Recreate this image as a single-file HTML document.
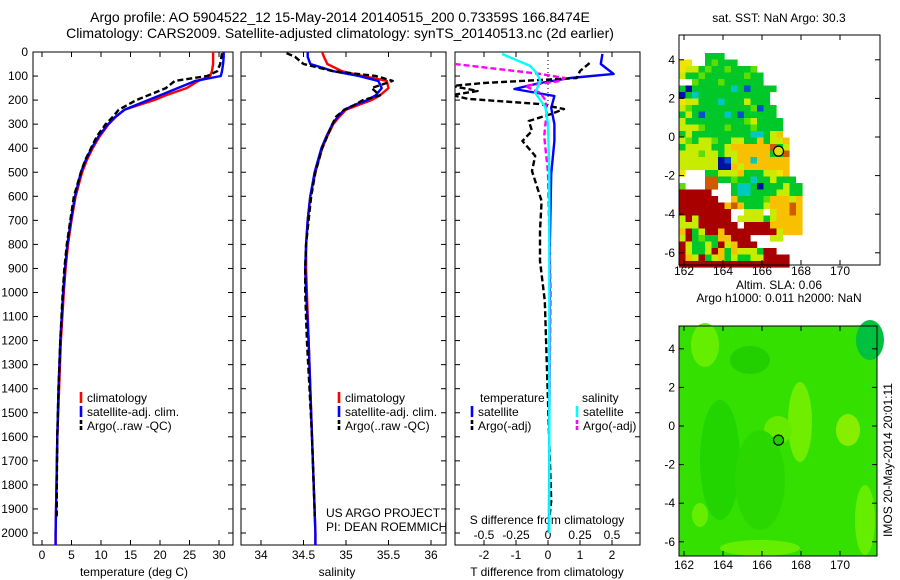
<!DOCTYPE html>
<html><head><meta charset="utf-8"><style>
html,body{margin:0;padding:0;background:#fff;}
svg{display:block;font-family:"Liberation Sans",sans-serif;}
text{fill:#000;}
</style></head><body>
<svg id="fig" width="900" height="580" viewBox="0 0 900 580" xmlns="http://www.w3.org/2000/svg">
<defs>
<clipPath id="c1"><rect x="33" y="52" width="200" height="493"/></clipPath>
<clipPath id="c2"><rect x="241" y="52" width="205" height="493"/></clipPath>
<clipPath id="c3"><rect x="455" y="52" width="185" height="493"/></clipPath>
</defs>
<text x="340" y="22" font-size="14" text-anchor="middle">Argo profile: AO 5904522_12 15-May-2014 20140515_200 0.73359S 166.8474E</text>
<text x="340" y="38" font-size="14" text-anchor="middle">Climatology: CARS2009. Satellite-adjusted climatology: synTS_20140513.nc (2d earlier)</text>
<g id="g"></g>
</svg>
<script>
// ---------- data ----------
const climDepth = [0,20,50,80,100,120,150,180,200,220,240,270,300,350,400,450,500,600,700,800,900,1000,1200,1400,1600,1800,2000,2060];
const tempClim = [29.0,29.0,29.0,28.8,28.5,26.5,24.5,21,19,16.5,14,12.5,11.3,9.8,8.6,7.6,6.8,5.7,5,4.4,4,3.7,3.2,2.9,2.6,2.45,2.3,2.3];
const tempSat = [30.8,30.8,30.7,30.5,30.3,26,23,20,18,16,14,12.4,11.2,9.6,8.4,7.4,6.6,5.6,4.9,4.3,3.9,3.6,3.1,2.8,2.6,2.45,2.3,2.3];
const argoDepth = [5,20,50,80,100,120,150,180,200,220,240,270,300,350,400,450,500,600,700,800,900,1000,1200,1400,1600,1800,1900,1930];
const tempArgo = [30.5,30.4,30.2,29.7,28,22.5,21,18,16,14.5,13,12,10.8,9.3,8.3,7.3,6.6,5.4,4.8,4.2,3.8,3.5,3.1,2.8,2.6,2.5,2.5,2.5];
const salClim = [34.72,34.74,34.78,34.95,35.2,35.48,35.5,35.4,35.3,35.15,35.0,34.92,34.85,34.78,34.72,34.68,34.64,34.58,34.55,34.53,34.53,34.54,34.56,34.58,34.6,34.62,34.64,34.64];
const salSat = [34.55,34.55,34.58,34.85,35.15,35.38,35.42,35.35,35.25,35.1,34.98,34.9,34.84,34.77,34.71,34.67,34.63,34.58,34.55,34.53,34.52,34.53,34.56,34.58,34.6,34.62,34.64,34.64];
const salArgo = [34.3,34.4,34.5,34.85,35.35,35.55,35.3,35.4,35.2,35.1,34.98,34.88,34.84,34.78,34.72,34.68,34.64,34.59,34.56,34.53,34.52,34.52,34.54,34.57,34.6,34.62,34.63,34.63];
const tDiffSatDepth = [8,50,91,108,129,154,183,233,300,370,507,786,1200,1600,2000];
const tDiffSat = [1.7,1.65,2.05,0.7,-0.25,-1.05,0.2,0.1,0.2,0.2,0.1,0.06,0.05,0.04,0.03];
const tDiffArgoDepth = [46,79,108,129,141,162,179,195,216,237,258,287,328,370,432,495,620,744,869,1035,1451,1867,1930];
const tDiffArgo = [1.3,1.0,0.9,-2.0,-3,-2.2,-3,-2.5,-0.3,0.5,0.1,-0.6,-0.5,-0.8,-0.4,-0.5,-0.2,-0.25,-0.25,-0.1,0,0.1,0.05];
const sDiffSatDepth = [8,58,87,120,170,230,300,500,1000,2000];
const sDiffSat = [-0.36,-0.14,-0.09,-0.06,-0.1,-0.02,0,0.01,0.01,0.01];
const sDiffArgoDepth = [50,91,108,120,141,170,200,250,350,500,1000,1500,1930];
const sDiffArgo = [-0.73,-0.06,0.13,0.1,-0.18,-0.06,-0.02,-0.01,-0.03,0,0.02,0.01,0.01];
const depthTicks = [0,100,200,300,400,500,600,700,800,900,1000,1100,1200,1300,1400,1500,1600,1700,1800,1900,2000];
const tempTicks = [0,5,10,15,20,25,30];
const salTicks = [34,34.5,35,35.5,36];
const tDiffTicks = [-2,-1,0,1,2];
const sDiffTicks = [-0.5,-0.25,0,0.25,0.5];
const lonTicks = [162,164,166,168,170];
const latTicks = [4,2,0,-2,-4,-6];
// SST map grid codes (rows from north), each cell 6.5px
const sstRows = [
"....GGG............",
"YY..GgGGG..........",
"YyyGgGGgGGGg.......",
"yGGgGGGGGGgGG......",
"..gGGGgGGGGGG......",
"GBGGGGGGcGbGGGG....",
"BGcGGGGGGGGGGG.....",
"YyyGGGcGGGyGGG.....",
"ygGGGGGGGGGgbGG....",
"GyGbGGGcGbGGGGG....",
"yGGGGGGGGGgyGGGG...",
"yyygGGGgGGGgGGGG...",
"GyGGGGGGGGGccGyo...",
"ygGyygGGyyGGoGyyo..",
"GyyyyGGyooooooOGy..",
"yyygyyGyyoooooGGO..",
"yyyyyyBbyoocooooo..",
"yyyyyyBBoyooooooo..",
"Y...GGyyyoGGGyyYo..",
"....OOGGgGGcGGyGGG.",
"g...OO..GccGBGGGyGG",
"RRRRR...GccGGGGyyGG",
"RRRRRR..oGGGGgoooyo",
"RRRRRRRoOoGGGyoooOo",
"RRRRRRRR..yyy.yooOo",
"yRyRRRRR.yyyyGyoooo",
"yyyRRRRRR.RRRRooooo",
"oRGyRRoRRRRRRRRyooo",
"yRGgGGooRRR...yy...",
"RyGGyGRyoRRR.......",
"RyGGyRoGoyyyGRR....",
"RoyRGyoGyGGyyRRRR..",
"RRRRRRRRRRRRRRRRR.."];
const sstColors = {G:"#00c828",g:"#5ede00",y:"#c8ec00",Y:"#f0e400",o:"#f8c000",O:"#d05a00",R:"#a80000",c:"#00c8c0",b:"#0050d0",B:"#0010a0"};
const argoLon = 166.8474, argoLat = -0.73359;

// ---------- helpers ----------
const NS="http://www.w3.org/2000/svg";
const root=document.getElementById('g');
function mk(tag,attrs,parent){const e=document.createElementNS(NS,tag);for(const k in attrs)e.setAttribute(k,attrs[k]);(parent||root).appendChild(e);return e;}
const yD = d => 52 + d*0.2405;
const xT = t => 42 + t*5.9;
const xS = s => 261 + (s-34)*85;
const xTD = t => 548 + t*32;
const xSD = s => 548 + s*128;
const TOP=52, BOT=545;
function pts(xs,ds,fx){return xs.map((v,i)=>fx(v).toFixed(1)+","+yD(ds[i]).toFixed(1)).join(" ");}

// panels
const panels=[[33,233,'temperature-panel'],[241,446,'salinity-panel'],[455,640,'difference-panel']];
panels.forEach(p=>{
  const r=mk('rect',{x:p[0],y:TOP,width:p[1]-p[0],height:BOT-TOP,fill:'none',stroke:'#000','stroke-width':1});
  
  
  depthTicks.forEach(d=>{
    mk('line',{x1:p[0],x2:p[0]+5,y1:yD(d),y2:yD(d),stroke:'#000'});
    mk('line',{x1:p[1]-5,x2:p[1],y1:yD(d),y2:yD(d),stroke:'#000'});
  });
});
depthTicks.forEach(d=>{
  const t=mk('text',{x:28,y:yD(d)+4,'font-size':12,'text-anchor':'end'});t.textContent=d;
  
  
});
function xticks(ticks,fx,labelY,tickTop,fmt){
  ticks.forEach(v=>{
    const x=fx(v);
    mk('line',{x1:x,x2:x,y1:BOT-5,y2:BOT,stroke:'#000'});
    if(tickTop) mk('line',{x1:x,x2:x,y1:TOP,y2:TOP+5,stroke:'#000'});
    const t=mk('text',{x:x,y:labelY,'font-size':12,'text-anchor':'middle'});t.textContent=fmt?fmt(v):v;
    
    
  });
}
xticks(tempTicks,xT,559,true);
xticks(salTicks,xS,559,true);
xticks(tDiffTicks,xTD,559,true);
sDiffTicks.forEach(v=>{const t=mk('text',{x:xSD(v),y:539,'font-size':12,'text-anchor':'middle'});t.textContent=String(v);
  
  });
function label(x,y,txt,name,anchor){const t=mk('text',{x:x,y:y,'font-size':12,'text-anchor':anchor||'middle'});t.textContent=txt;
  
  return t;}
label(134,576,'temperature (deg C)','temperature-axis-title');
label(337,576,'salinity','salinity-axis-title');
label(547,576,'T difference from climatology','t-diff-axis-title');
label(547,524,'S difference from climatology','s-diff-axis-title');
label(326,517,'US ARGO PROJECT','project-note','start');
label(326,531,'PI: DEAN ROEMMICH','pi-note','start');

// zero line in diff panel
const zl=mk('line',{x1:548,x2:548,y1:TOP,y2:yD(230),stroke:'#000','stroke-dasharray':'1,3'});



function curve(xs,ds,fx,color,dash,clip,name){
  const a={points:pts(xs,ds,fx),fill:'none',stroke:color,'stroke-width':2.4,'stroke-linejoin':'round','clip-path':'url(#'+clip+')'};
  if(dash)a['stroke-dasharray']=dash;
  const l=mk('polyline',a);
  
  
}
curve(tempClim,climDepth,xT,'#ff0000',null,'c1','temp-climatology-line');
curve(tempSat,climDepth,xT,'#0000ff',null,'c1','temp-satellite-line');
curve(tempArgo,argoDepth,xT,'#000',"6,3",'c1','temp-argo-line');
curve(salClim,climDepth,xS,'#ff0000',null,'c2','sal-climatology-line');
curve(salSat,climDepth,xS,'#0000ff',null,'c2','sal-satellite-line');
curve(salArgo,argoDepth,xS,'#000',"6,3",'c2','sal-argo-line');
curve(tDiffSat,tDiffSatDepth,xTD,'#0000ff',null,'c3','tdiff-satellite-line');
curve(tDiffArgo,tDiffArgoDepth,xTD,'#000',"6,3",'c3','tdiff-argo-line');
curve(sDiffArgo,sDiffArgoDepth,xSD,'#ff00ff',"6,3",'c3','sdiff-argo-line');
curve(sDiffSat,sDiffSatDepth,xSD,'#00ffff',null,'c3','sdiff-satellite-line');

// legends
function legItem(x,y,color,txt,dash,name){
  const a={x1:x,x2:x,y1:y-10,y2:y+1,stroke:color,'stroke-width':2.6};if(dash)a['stroke-dasharray']=dash;
  const l=mk('line',a);
  
  
  if(txt) label(x+6,y,txt,name,'start');
}
[[81,'legend'],[339,'legend2']].forEach(L=>{
  legItem(L[0],402,'#ff0000','climatology',null,L[1]+'-climatology');
  legItem(L[0],416,'#0000ff','satellite-adj. clim.',null,L[1]+'-satellite');
  legItem(L[0],430,'#000','Argo(..raw -QC)','4,2',L[1]+'-argo');
});
label(480,402,'temperature','legend-temperature-heading','start');
label(582,402,'salinity','legend-salinity-heading','start');
legItem(472,416,'#0000ff','satellite',null,'legend-tdiff-satellite');
legItem(472,430,'#000','Argo(-adj)','4,2','legend-tdiff-argo');
legItem(577,416,'#00ffff','satellite',null,'legend-sdiff-satellite');
legItem(577,430,'#ff00ff','Argo(-adj)','4,2','legend-sdiff-argo');

// ---------- maps ----------
function mapAxes(top,bottom,x0,x1,lonX,latY,name,lblOff){
  const r=mk('rect',{x:x0,y:top,width:x1-x0,height:bottom-top,fill:'none',stroke:'#000'});
  
  
  lonTicks.forEach(v=>{const x=lonX(v);mk('line',{x1:x,x2:x,y1:top,y2:top+5,stroke:'#000'});mk('line',{x1:x,x2:x,y1:bottom-5,y2:bottom,stroke:'#000'});
    const t=mk('text',{x:x,y:bottom+lblOff,'font-size':12,'text-anchor':'middle'});t.textContent=v;
    
    });
  latTicks.forEach(v=>{const y=latY(v);mk('line',{x1:x0,x2:x0+5,y1:y,y2:y,stroke:'#000'});mk('line',{x1:x1-5,x2:x1,y1:y,y2:y,stroke:'#000'});
    const t=mk('text',{x:x0-4,y:y+4,'font-size':12,'text-anchor':'end'});t.textContent=v;
    
    });
}
const lonA = v => 684 + (v-162)*19.5;
const latA = v => 137 - v*19.3;
const latB = v => 426 - v*19.3;
// SST cells
sstRows.forEach((row,ri)=>{
  for(let ci=0;ci<row.length;ci++){
    const c=sstColors[row[ci]];if(!c)continue;
    const r=mk('rect',{x:679+ci*6.5,y:53+ri*6.5,width:6.6,height:6.6,fill:c});
    
    
  }
});
mapAxes(35,265,679,880,lonA,latA,'sst-map',10);
label(779,22,'sat. SST: NaN  Argo: 30.3','sst-map-title');
const c1=mk('circle',{cx:lonA(argoLon),cy:latA(argoLat),r:5,fill:'#e0e000',stroke:'#000','stroke-width':1.2});



// SLA map
const bg=mk('rect',{x:679,y:326,width:198,height:230,fill:'#33e000'});


const blobs=[[705,345,14,22,'#66ee00'],[750,360,20,14,'#22d000'],[800,422,12,40,'#70ee00'],[848,430,12,16,'#88ee00'],[778,430,14,14,'#66ea00'],[720,460,20,60,'#22d400'],[760,480,25,50,'#2ad800'],[870,340,14,20,'#00c040'],[760,548,40,8,'#66ee00'],[865,520,10,35,'#66ee00'],[700,515,8,12,'#66ee00']];
blobs.forEach(b=>{const e=mk('ellipse',{cx:b[0],cy:b[1],rx:b[2],ry:b[3],fill:b[4]});
  
  });
mapAxes(326,556,679,877,lonA,latB,'sla-map',13);
label(779,289,'Altim. SLA: 0.06','sla-title-1');
label(779,302,'Argo h1000: 0.011 h2000: NaN','sla-title-2');
const c2=mk('circle',{cx:lonA(argoLon),cy:latB(argoLat),r:5,fill:'#22cc00',stroke:'#000','stroke-width':1.2});


const st=mk('text',{x:0,y:0,'font-size':12,'text-anchor':'middle',transform:'translate(892,460) rotate(-90)'});
st.textContent='IMOS 20-May-2014 20:01:11';


</script>
</body></html>
